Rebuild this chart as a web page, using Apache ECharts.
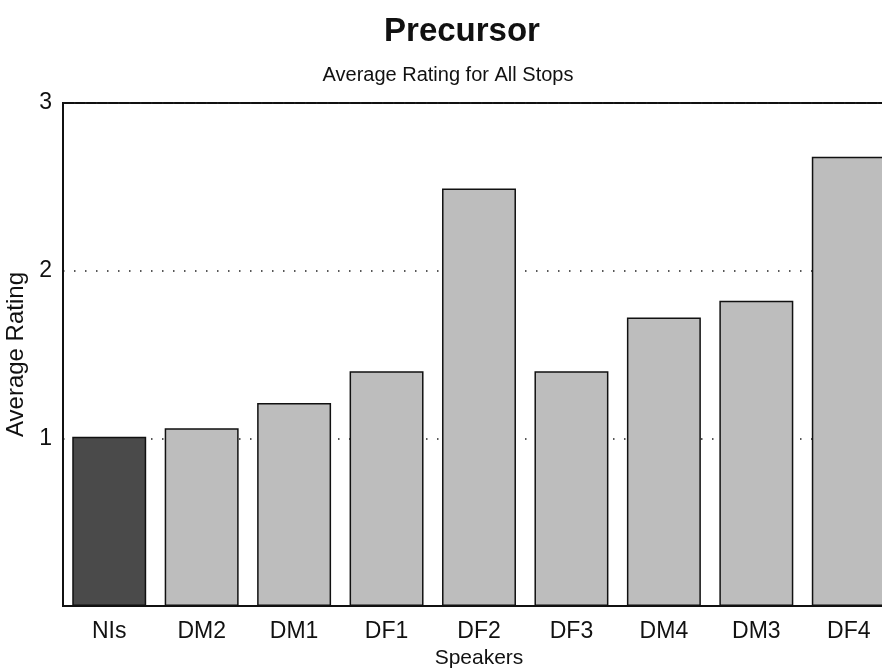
<!DOCTYPE html>
<html>
<head>
<meta charset="utf-8">
<script src="https://cdn.jsdelivr.net/npm/echarts@6/dist/echarts.min.js"></script>
<style>
html,body{margin:0;padding:0;background:#fff;}
#chart{width:882px;height:671px;}
</style>
</head>
<body>
<div id="chart"></div>
<script>
var categories = ['NIs', 'DM2', 'DM1', 'DF1', 'DF2', 'DF3', 'DM4', 'DM3', 'DF4'];
var ratings = [1.01, 1.06, 1.21, 1.40, 2.49, 1.40, 1.72, 1.82, 2.68];
var barColors = ['#4a4a4a', '#bdbdbd', '#bdbdbd', '#bdbdbd', '#bdbdbd', '#bdbdbd', '#bdbdbd', '#bdbdbd', '#bdbdbd'];
var yTicks = [1, 2, 3];

var font = '"Liberation Sans", Arial, Helvetica, sans-serif';
var chart = echarts.init(document.getElementById('chart'));
chart.setOption({
  animation: false,
  backgroundColor: '#fff',
  title: [{
    text: 'Precursor',
    left: 457, top: 10, textAlign: 'center',
    textStyle: {fontFamily: font, fontWeight: 'bold', fontSize: 33, color: '#111'}
  }, {
    text: 'Average Rating for All Stops',
    left: 443, top: 60, textAlign: 'center',
    textStyle: {fontFamily: font, fontWeight: 'normal', fontSize: 20, color: '#111'}
  }],
  grid: {
    left: 63, top: 103, width: 832, height: 503,
    outerBoundsMode: 'none',
    containLabel: false,
    show: true, borderColor: '#111', borderWidth: 2, backgroundColor: 'transparent'
  },
  xAxis: {
    type: 'category',
    data: categories,
    name: 'Speakers',
    nameLocation: 'middle',
    nameGap: 40,
    nameTextStyle: {fontFamily: font, fontSize: 21, color: '#111'},
    axisLine: {show: true, lineStyle: {color: '#111', width: 2}},
    axisTick: {show: false},
    axisLabel: {fontFamily: font, fontSize: 23, color: '#111', margin: 14},
    splitLine: {show: false}
  },
  yAxis: {
    type: 'value',
    min: 0, max: 3, interval: 1,
    name: 'Average Rating',
    nameLocation: 'middle',
    nameGap: 31,
    nameTextStyle: {fontFamily: font, fontSize: 24, color: '#111'},
    axisLine: {show: true, lineStyle: {color: '#111', width: 2}},
    axisTick: {show: false},
    axisLabel: {
      fontFamily: font, fontSize: 23, color: '#111', margin: 11,
      formatter: function (v) { return yTicks.indexOf(v) >= 0 ? String(v) : ''; }
    },
    splitLine: {show: true, lineStyle: {color: '#222', width: 1.5, type: [1.5, 9.5]}}
  },
  series: [{
    type: 'bar',
    data: ratings.map(function (v, i) {
      return {value: v, itemStyle: {color: barColors[i]}};
    }),
    barCategoryGap: '20%',
    itemStyle: {borderColor: '#111', borderWidth: 1.5},
    z: 3
  }]
});
</script>
</body>
</html>
